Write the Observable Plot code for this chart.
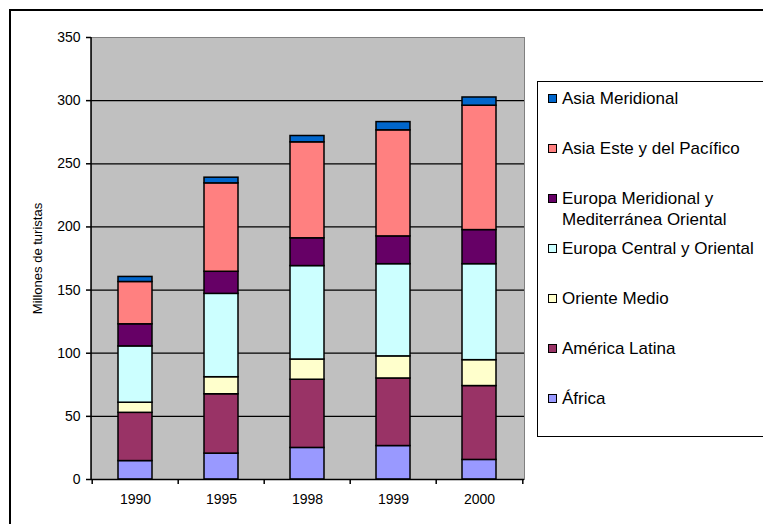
<!DOCTYPE html>
<html>
<head>
<meta charset="utf-8">
<script src="https://cdn.jsdelivr.net/npm/d3@7"></script>
<script src="https://cdn.jsdelivr.net/npm/@observablehq/plot@0.6"></script>
<style>
  html, body { margin: 0; padding: 0; background: #fff; }
  body { font-family: "Liberation Sans", Arial, sans-serif; }
  #wrap { position: relative; width: 763px; height: 524px; overflow: hidden; }
  #outer { position: absolute; left: 9px; top: 9px; width: 820px; height: 620px; border: 2px solid #000; box-sizing: border-box; }
  #chart { position: absolute; left: 0; top: 0; }
  #legend { position: absolute; left: 537px; top: 81px; width: 260px; height: 356px; border: 1.5px solid #000; box-sizing: border-box; background: #fff; }
  .item { position: absolute; left: 10px; font-size: 17px; line-height: 21px; color: #000; white-space: nowrap; }
  .sw { position: absolute; left: 0; top: 6px; width: 7px; height: 7px; border: 1.5px solid #000; }
  .lbl { position: absolute; left: 14px; top: 0; }
</style>
</head>
<body>
<div id="wrap">
  <div id="outer"></div>
  <div id="chart"></div>
  <div id="legend"></div>
</div>
<script>
// ---- data ----
const years = ["1990", "1995", "1998", "1999", "2000"];
const africa           = [14.6, 20.5, 25.0, 26.5, 15.5];
const americaLatina    = [38.2, 47.0, 54.0, 53.5, 58.5];
const orienteMedio     = [8.0, 13.5, 16.0, 17.5, 20.5];
const europaCentral    = [44.6, 66.0, 74.0, 73.0, 76.0];
const europaMeridional = [17.5, 17.5, 22.0, 22.0, 27.0];
const asiaEste         = [33.5, 70.0, 76.0, 84.0, 98.5];
const asiaMeridional   = [4.0, 4.5, 5.0, 6.5, 6.5];

const seriesNames = ["África", "América Latina", "Oriente Medio", "Europa Central y Oriental",
  "Europa Meridional y Mediterránea Oriental", "Asia Este y del Pacífico", "Asia Meridional"];
const seriesValues = [africa, americaLatina, orienteMedio, europaCentral, europaMeridional, asiaEste, asiaMeridional];
const seriesColors = ["#9999FF", "#993366", "#FFFFCC", "#CCFFFF", "#660066", "#FF8080", "#0066CC"];
const legendLabels = ["África", "América Latina", "Oriente Medio", "Europa Central y Oriental",
  "Europa Meridional y<br>Mediterránea Oriental", "Asia Este y del Pacífico", "Asia Meridional"];
const yTicks = [0, 50, 100, 150, 200, 250, 300, 350];
const gridTicks = [50, 100, 150, 200, 250, 300];
const yTitle = "Millones de turistas";

// ---- table ----
const rows = seriesNames.flatMap((name, s) =>
  years.map((year, i) => ({ year, region: name, value: seriesValues[s][i] })));

const W = 763, H = 524;
const mL = 91, mR = 239, mT = 37, mB = 45;
const padIn = 0.6, padOut = 0.3;
const step = (W - mL - mR) / (years.length - padIn + 2 * padOut);

const leftLine = (index, scales, values, dims) => {
  const g = d3.create("svg:line")
    .attr("x1", dims.marginLeft).attr("x2", dims.marginLeft)
    .attr("y1", dims.marginTop).attr("y2", dims.height - dims.marginBottom)
    .attr("stroke", "#000").attr("stroke-width", 1.5);
  return g.node();
};

const chart = Plot.plot({
  width: W, height: H,
  marginLeft: mL, marginRight: mR, marginTop: mT, marginBottom: mB,
  style: { fontFamily: "'Liberation Sans', Arial, sans-serif", fontSize: "14px", background: "transparent", color: "#000" },
  x: { domain: years, paddingInner: padIn, paddingOuter: padOut, label: null },
  y: { domain: [0, 350], label: null },
  color: { domain: seriesNames, range: seriesColors },
  marks: [
    Plot.frame({ fill: "#C0C0C0", stroke: "#808080" }),
    Plot.gridY(gridTicks, { stroke: "#000", strokeOpacity: 1, strokeWidth: 1.2 }),
    Plot.barY(rows, { x: "year", y: "value", fill: "region", stroke: "#000", strokeWidth: 1.5, order: null }),
    Plot.ruleY([0], { stroke: "#000", strokeWidth: 1.5 }),
    leftLine,
    Plot.axisY(yTicks, { tickSize: 5, tickPadding: 6, fontSize: 14, label: null, strokeWidth: 1.5 }),
    Plot.axisX({ tickSize: 0, tickPadding: 15, fontSize: 14, label: null }),
    Plot.axisX(years, { tickSize: 5, tickFormat: () => "", label: null, dx: -step / 2, strokeWidth: 1.5 }),
    Plot.axisX([years[years.length - 1]], { tickSize: 5, tickFormat: () => "", label: null, dx: step / 2, strokeWidth: 1.5 }),
    Plot.text([yTitle], { frameAnchor: "left", textAnchor: "middle", rotate: -90, dx: -54, fontSize: 13, fill: "#000" })
  ]
});
document.getElementById("chart").appendChild(chart);

// ---- legend ----
const legend = document.getElementById("legend");
const order = seriesNames.map((_, i) => i).reverse();
order.forEach((s, k) => {
  const item = document.createElement("div");
  item.className = "item";
  item.style.top = (18 + 50 * k - 10.5 - 1.5) + "px";
  item.innerHTML = `<span class="sw" style="background:${seriesColors[s]}"></span><span class="lbl">${legendLabels[s]}</span>`;
  legend.appendChild(item);
});
</script>
</body>
</html>
